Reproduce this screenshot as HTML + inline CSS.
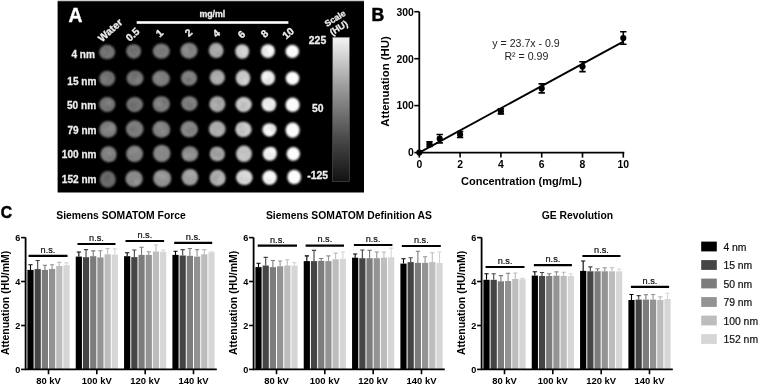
<!DOCTYPE html>
<html><head><meta charset="utf-8"><style>
html,body{margin:0;padding:0;background:#fff;width:758px;height:385px;overflow:hidden;}
svg{display:block;will-change:transform;}
</style></head><body>
<svg width="758" height="385" viewBox="0 0 758 385">
<rect width="758" height="385" fill="#fff"/>
<rect x="57.6" y="0" width="306.4" height="1.2" fill="#cfcfcf"/>
<rect x="57.6" y="1.2" width="306.4" height="191.3" fill="#000"/>
<text x="68.5" y="21.6" font-family="Liberation Sans" font-weight="bold" font-size="19.3" fill="#fff" stroke="#fff" stroke-width="0.4">A</text>
<text x="199.4" y="16.8" font-family="Liberation Sans" font-weight="bold" font-size="8.8" fill="#ececec" stroke="#ececec" stroke-width="0.3">mg/ml</text>
<rect x="136.7" y="21.2" width="151.7" height="2.6" fill="#fff"/>
<text transform="translate(112.61,32.88) rotate(-42)" text-anchor="middle" font-family="Liberation Sans" font-weight="bold" font-size="10.4" fill="#ececec" stroke="#ececec" stroke-width="0.35">Water</text>
<text transform="translate(135.01,37.28) rotate(-42)" text-anchor="middle" font-family="Liberation Sans" font-weight="bold" font-size="10.4" fill="#ececec" stroke="#ececec" stroke-width="0.35">0.5</text>
<text transform="translate(161.81,35.78) rotate(-42)" text-anchor="middle" font-family="Liberation Sans" font-weight="bold" font-size="10.4" fill="#ececec" stroke="#ececec" stroke-width="0.35">1</text>
<text transform="translate(190.81,35.38) rotate(-42)" text-anchor="middle" font-family="Liberation Sans" font-weight="bold" font-size="10.4" fill="#ececec" stroke="#ececec" stroke-width="0.35">2</text>
<text transform="translate(218.61,36.18) rotate(-42)" text-anchor="middle" font-family="Liberation Sans" font-weight="bold" font-size="10.4" fill="#ececec" stroke="#ececec" stroke-width="0.35">4</text>
<text transform="translate(244.01,36.98) rotate(-42)" text-anchor="middle" font-family="Liberation Sans" font-weight="bold" font-size="10.4" fill="#ececec" stroke="#ececec" stroke-width="0.35">6</text>
<text transform="translate(266.81,36.28) rotate(-42)" text-anchor="middle" font-family="Liberation Sans" font-weight="bold" font-size="10.4" fill="#ececec" stroke="#ececec" stroke-width="0.35">8</text>
<text transform="translate(290.51,35.98) rotate(-42)" text-anchor="middle" font-family="Liberation Sans" font-weight="bold" font-size="10.4" fill="#ececec" stroke="#ececec" stroke-width="0.35">10</text>
<text transform="translate(94.9,58.0) scale(0.95,1)" text-anchor="end" font-family="Liberation Sans" font-weight="bold" font-size="10.6" fill="#ececec" stroke="#ececec" stroke-width="0.3">4 nm</text>
<text transform="translate(96.4,85.2) scale(0.95,1)" text-anchor="end" font-family="Liberation Sans" font-weight="bold" font-size="10.6" fill="#ececec" stroke="#ececec" stroke-width="0.3">15 nm</text>
<text transform="translate(96.1,108.8) scale(0.95,1)" text-anchor="end" font-family="Liberation Sans" font-weight="bold" font-size="10.6" fill="#ececec" stroke="#ececec" stroke-width="0.3">50 nm</text>
<text transform="translate(96.5,134.2) scale(0.95,1)" text-anchor="end" font-family="Liberation Sans" font-weight="bold" font-size="10.6" fill="#ececec" stroke="#ececec" stroke-width="0.3">79 nm</text>
<text transform="translate(96.5,158.2) scale(0.95,1)" text-anchor="end" font-family="Liberation Sans" font-weight="bold" font-size="10.6" fill="#ececec" stroke="#ececec" stroke-width="0.3">100 nm</text>
<text transform="translate(96.5,182.7) scale(0.95,1)" text-anchor="end" font-family="Liberation Sans" font-weight="bold" font-size="10.6" fill="#ececec" stroke="#ececec" stroke-width="0.3">152 nm</text>
<defs><filter id="bl" x="-30%" y="-30%" width="160%" height="160%"><feGaussianBlur stdDeviation="0.9"/></filter>
<filter id="bl2" x="-50%" y="-50%" width="200%" height="200%"><feGaussianBlur stdDeviation="1.6"/></filter>
<linearGradient id="sg" x1="0" y1="0" x2="0" y2="1"><stop offset="0" stop-color="#f4f4f4"/><stop offset="0.35" stop-color="#9a9a9a"/><stop offset="0.7" stop-color="#4a4a4a"/><stop offset="1" stop-color="#111"/></linearGradient>
</defs>
<g filter="url(#bl)">
<ellipse cx="107.2" cy="52.1" rx="7.95" ry="7.25" fill="rgb(116,116,116)"/>
<ellipse cx="133.7" cy="51.4" rx="7.35" ry="7.25" fill="rgb(119,119,119)"/>
<ellipse cx="161.3" cy="51.1" rx="8.55" ry="7.60" fill="rgb(124,124,124)"/>
<ellipse cx="189" cy="50.7" rx="8.50" ry="7.95" fill="rgb(132,132,132)"/>
<ellipse cx="216.1" cy="50.4" rx="7.40" ry="7.65" fill="rgb(168,168,168)"/>
<ellipse cx="242.2" cy="51.5" rx="6.95" ry="7.25" fill="rgb(202,202,202)"/>
<ellipse cx="267.9" cy="51.1" rx="6.95" ry="6.90" fill="rgb(238,238,238)"/>
<ellipse cx="292.3" cy="51.4" rx="6.75" ry="6.55" fill="rgb(252,252,252)"/>
<ellipse cx="107.2" cy="78.6" rx="7.95" ry="7.75" fill="rgb(114,114,114)"/>
<ellipse cx="135" cy="78.1" rx="8.55" ry="7.60" fill="rgb(117,117,117)"/>
<ellipse cx="161" cy="78.5" rx="8.80" ry="7.95" fill="rgb(123,123,123)"/>
<ellipse cx="189" cy="78.1" rx="8.10" ry="7.60" fill="rgb(127,127,127)"/>
<ellipse cx="217.3" cy="77.4" rx="7.60" ry="7.60" fill="rgb(168,168,168)"/>
<ellipse cx="243" cy="77.9" rx="7.30" ry="7.80" fill="rgb(200,200,200)"/>
<ellipse cx="268" cy="77.8" rx="7.05" ry="7.25" fill="rgb(236,236,236)"/>
<ellipse cx="292.5" cy="78.2" rx="6.80" ry="6.80" fill="rgb(252,252,252)"/>
<ellipse cx="107.2" cy="104.5" rx="8.05" ry="7.60" fill="rgb(117,117,117)"/>
<ellipse cx="134.7" cy="104.5" rx="8.35" ry="7.60" fill="rgb(120,120,120)"/>
<ellipse cx="161.3" cy="104.2" rx="8.55" ry="7.95" fill="rgb(125,125,125)"/>
<ellipse cx="189.4" cy="103.6" rx="8.10" ry="7.40" fill="rgb(129,129,129)"/>
<ellipse cx="217.3" cy="104.2" rx="8.00" ry="7.95" fill="rgb(168,168,168)"/>
<ellipse cx="243.7" cy="104.5" rx="8.15" ry="7.60" fill="rgb(202,202,202)"/>
<ellipse cx="268.9" cy="104.5" rx="7.30" ry="6.95" fill="rgb(238,238,238)"/>
<ellipse cx="292.6" cy="104.8" rx="7.10" ry="7.30" fill="rgb(252,252,252)"/>
<ellipse cx="108" cy="129.4" rx="8.75" ry="8.30" fill="rgb(124,124,124)"/>
<ellipse cx="134.7" cy="129" rx="8.80" ry="8.65" fill="rgb(126,126,126)"/>
<ellipse cx="161.3" cy="129.4" rx="8.85" ry="8.30" fill="rgb(128,128,128)"/>
<ellipse cx="189.2" cy="129.2" rx="8.70" ry="8.10" fill="rgb(134,134,134)"/>
<ellipse cx="217.2" cy="129" rx="8.45" ry="7.95" fill="rgb(170,170,170)"/>
<ellipse cx="243.5" cy="129.4" rx="8.20" ry="7.60" fill="rgb(202,202,202)"/>
<ellipse cx="269.2" cy="129.7" rx="6.95" ry="6.55" fill="rgb(240,240,240)"/>
<ellipse cx="292.6" cy="130.1" rx="7.10" ry="7.60" fill="rgb(252,252,252)"/>
<ellipse cx="108.5" cy="154.2" rx="8.00" ry="7.95" fill="rgb(129,129,129)"/>
<ellipse cx="134.6" cy="153.8" rx="8.45" ry="8.30" fill="rgb(130,130,130)"/>
<ellipse cx="161.8" cy="153.4" rx="8.65" ry="8.65" fill="rgb(136,136,136)"/>
<ellipse cx="189.9" cy="153.8" rx="8.30" ry="7.60" fill="rgb(139,139,139)"/>
<ellipse cx="217.3" cy="154.1" rx="7.60" ry="7.25" fill="rgb(168,168,168)"/>
<ellipse cx="244" cy="153.8" rx="7.95" ry="8.30" fill="rgb(194,194,194)"/>
<ellipse cx="269.8" cy="153.8" rx="7.10" ry="6.90" fill="rgb(240,240,240)"/>
<ellipse cx="293.3" cy="153.8" rx="6.75" ry="6.90" fill="rgb(253,253,253)"/>
<ellipse cx="107.8" cy="179.4" rx="7.95" ry="8.30" fill="rgb(108,108,108)"/>
<ellipse cx="134.1" cy="178.7" rx="8.65" ry="8.30" fill="rgb(138,138,138)"/>
<ellipse cx="162.2" cy="178.4" rx="9.00" ry="8.65" fill="rgb(145,145,145)"/>
<ellipse cx="189.9" cy="177.3" rx="8.30" ry="8.30" fill="rgb(158,158,158)"/>
<ellipse cx="217.6" cy="178" rx="7.95" ry="8.30" fill="rgb(175,175,175)"/>
<ellipse cx="244.3" cy="177.3" rx="8.30" ry="7.60" fill="rgb(216,216,216)"/>
<ellipse cx="269.6" cy="177.6" rx="7.30" ry="7.25" fill="rgb(245,245,245)"/>
<ellipse cx="294.2" cy="177" rx="6.90" ry="7.25" fill="rgb(252,252,252)"/>
</g>
<g filter="url(#bl2)">
<circle cx="106.0" cy="49.7" r="2.7" fill="rgb(100,100,100)"/>
<circle cx="104.4" cy="52.7" r="3.1" fill="rgb(108,108,108)"/>
<circle cx="104.3" cy="51.5" r="2.1" fill="rgb(124,124,124)"/>
<circle cx="136.0" cy="48.8" r="2.1" fill="rgb(105,105,105)"/>
<circle cx="130.5" cy="49.4" r="2.6" fill="rgb(107,107,107)"/>
<circle cx="133.1" cy="51.7" r="2.6" fill="rgb(110,110,110)"/>
<circle cx="161.9" cy="52.1" r="2.3" fill="rgb(116,116,116)"/>
<circle cx="162.1" cy="51.1" r="2.5" fill="rgb(139,139,139)"/>
<circle cx="161.9" cy="50.8" r="2.2" fill="rgb(113,113,113)"/>
<circle cx="186.1" cy="49.3" r="2.5" fill="rgb(147,147,147)"/>
<circle cx="187.5" cy="54.1" r="2.0" fill="rgb(142,142,142)"/>
<circle cx="190.8" cy="48.3" r="2.5" fill="rgb(123,123,123)"/>
<circle cx="218.0" cy="50.9" r="3.0" fill="rgb(181,181,181)"/>
<circle cx="217.5" cy="51.1" r="2.6" fill="rgb(177,177,177)"/>
<circle cx="218.5" cy="53.5" r="2.5" fill="rgb(160,160,160)"/>
<circle cx="243.8" cy="50.2" r="2.6" fill="rgb(214,214,214)"/>
<circle cx="243.7" cy="54.2" r="2.3" fill="rgb(215,215,215)"/>
<circle cx="239.9" cy="48.8" r="1.9" fill="rgb(212,212,212)"/>
<circle cx="269.6" cy="50.4" r="3.1" fill="rgb(247,247,247)"/>
<circle cx="265.6" cy="50.4" r="2.2" fill="rgb(224,224,224)"/>
<circle cx="270.4" cy="49.5" r="2.4" fill="rgb(252,252,252)"/>
<circle cx="110.4" cy="76.2" r="2.0" fill="rgb(103,103,103)"/>
<circle cx="103.8" cy="80.9" r="2.1" fill="rgb(122,122,122)"/>
<circle cx="104.7" cy="78.8" r="2.7" fill="rgb(124,124,124)"/>
<circle cx="136.3" cy="78.2" r="2.7" fill="rgb(102,102,102)"/>
<circle cx="137.8" cy="80.1" r="3.0" fill="rgb(131,131,131)"/>
<circle cx="134.3" cy="75.3" r="2.7" fill="rgb(106,106,106)"/>
<circle cx="158.0" cy="76.5" r="2.0" fill="rgb(131,131,131)"/>
<circle cx="158.2" cy="79.0" r="2.6" fill="rgb(131,131,131)"/>
<circle cx="158.0" cy="76.5" r="2.3" fill="rgb(136,136,136)"/>
<circle cx="189.7" cy="77.9" r="2.0" fill="rgb(142,142,142)"/>
<circle cx="188.9" cy="76.8" r="2.0" fill="rgb(139,139,139)"/>
<circle cx="188.9" cy="79.4" r="2.5" fill="rgb(111,111,111)"/>
<circle cx="216.3" cy="78.7" r="3.1" fill="rgb(177,177,177)"/>
<circle cx="218.7" cy="75.7" r="2.3" fill="rgb(155,155,155)"/>
<circle cx="219.2" cy="77.6" r="2.9" fill="rgb(179,179,179)"/>
<circle cx="243.8" cy="79.9" r="2.9" fill="rgb(189,189,189)"/>
<circle cx="245.2" cy="79.6" r="2.1" fill="rgb(213,213,213)"/>
<circle cx="244.6" cy="81.3" r="2.9" fill="rgb(212,212,212)"/>
<circle cx="265.9" cy="78.5" r="2.3" fill="rgb(249,249,249)"/>
<circle cx="265.1" cy="75.0" r="2.5" fill="rgb(247,247,247)"/>
<circle cx="267.9" cy="81.2" r="2.7" fill="rgb(221,221,221)"/>
<circle cx="110.1" cy="103.4" r="2.7" fill="rgb(103,103,103)"/>
<circle cx="109.2" cy="106.3" r="2.5" fill="rgb(103,103,103)"/>
<circle cx="109.2" cy="103.3" r="2.9" fill="rgb(132,132,132)"/>
<circle cx="134.0" cy="107.6" r="2.8" fill="rgb(110,110,110)"/>
<circle cx="131.4" cy="105.1" r="2.5" fill="rgb(105,105,105)"/>
<circle cx="135.8" cy="103.5" r="2.6" fill="rgb(112,112,112)"/>
<circle cx="157.9" cy="107.5" r="2.7" fill="rgb(111,111,111)"/>
<circle cx="164.7" cy="102.1" r="3.0" fill="rgb(113,113,113)"/>
<circle cx="159.3" cy="104.2" r="2.9" fill="rgb(137,137,137)"/>
<circle cx="189.7" cy="105.9" r="1.9" fill="rgb(144,144,144)"/>
<circle cx="190.5" cy="105.8" r="2.5" fill="rgb(113,113,113)"/>
<circle cx="187.0" cy="103.7" r="3.0" fill="rgb(121,121,121)"/>
<circle cx="219.2" cy="101.7" r="2.0" fill="rgb(152,152,152)"/>
<circle cx="214.2" cy="105.5" r="2.5" fill="rgb(177,177,177)"/>
<circle cx="220.0" cy="101.1" r="2.1" fill="rgb(159,159,159)"/>
<circle cx="243.8" cy="104.9" r="2.9" fill="rgb(187,187,187)"/>
<circle cx="242.5" cy="107.8" r="2.6" fill="rgb(190,190,190)"/>
<circle cx="243.4" cy="104.7" r="2.5" fill="rgb(186,186,186)"/>
<circle cx="271.5" cy="107.6" r="2.2" fill="rgb(223,223,223)"/>
<circle cx="266.4" cy="101.9" r="2.4" fill="rgb(227,227,227)"/>
<circle cx="268.4" cy="102.5" r="2.2" fill="rgb(228,228,228)"/>
<circle cx="111.1" cy="130.4" r="2.3" fill="rgb(134,134,134)"/>
<circle cx="111.3" cy="127.4" r="3.1" fill="rgb(139,139,139)"/>
<circle cx="105.6" cy="130.6" r="2.1" fill="rgb(140,140,140)"/>
<circle cx="134.0" cy="128.4" r="2.3" fill="rgb(113,113,113)"/>
<circle cx="131.3" cy="129.4" r="2.4" fill="rgb(112,112,112)"/>
<circle cx="133.5" cy="129.9" r="2.5" fill="rgb(117,117,117)"/>
<circle cx="164.7" cy="131.4" r="3.2" fill="rgb(119,119,119)"/>
<circle cx="159.7" cy="126.2" r="2.9" fill="rgb(138,138,138)"/>
<circle cx="163.5" cy="131.8" r="2.7" fill="rgb(142,142,142)"/>
<circle cx="186.7" cy="132.1" r="2.6" fill="rgb(143,143,143)"/>
<circle cx="187.7" cy="131.3" r="2.1" fill="rgb(122,122,122)"/>
<circle cx="192.3" cy="130.1" r="2.9" fill="rgb(123,123,123)"/>
<circle cx="214.2" cy="131.5" r="2.4" fill="rgb(186,186,186)"/>
<circle cx="216.6" cy="131.9" r="2.7" fill="rgb(154,154,154)"/>
<circle cx="218.7" cy="132.1" r="3.2" fill="rgb(178,178,178)"/>
<circle cx="241.3" cy="132.4" r="2.7" fill="rgb(190,190,190)"/>
<circle cx="243.1" cy="130.6" r="2.2" fill="rgb(190,190,190)"/>
<circle cx="240.3" cy="126.0" r="2.5" fill="rgb(186,186,186)"/>
<circle cx="269.0" cy="132.7" r="1.9" fill="rgb(255,255,255)"/>
<circle cx="269.5" cy="132.4" r="3.2" fill="rgb(251,251,251)"/>
<circle cx="272.6" cy="128.6" r="3.0" fill="rgb(226,226,226)"/>
<circle cx="111.9" cy="157.6" r="3.0" fill="rgb(120,120,120)"/>
<circle cx="109.4" cy="156.9" r="2.4" fill="rgb(120,120,120)"/>
<circle cx="109.7" cy="153.4" r="2.5" fill="rgb(140,140,140)"/>
<circle cx="135.9" cy="150.6" r="2.1" fill="rgb(145,145,145)"/>
<circle cx="131.1" cy="152.8" r="2.3" fill="rgb(141,141,141)"/>
<circle cx="131.3" cy="156.5" r="2.1" fill="rgb(122,122,122)"/>
<circle cx="160.6" cy="150.5" r="2.2" fill="rgb(125,125,125)"/>
<circle cx="161.8" cy="149.9" r="2.2" fill="rgb(126,126,126)"/>
<circle cx="161.1" cy="150.2" r="1.8" fill="rgb(147,147,147)"/>
<circle cx="187.0" cy="157.0" r="3.0" fill="rgb(125,125,125)"/>
<circle cx="191.8" cy="155.3" r="2.5" fill="rgb(149,149,149)"/>
<circle cx="186.7" cy="156.1" r="3.0" fill="rgb(155,155,155)"/>
<circle cx="214.8" cy="154.3" r="2.5" fill="rgb(157,157,157)"/>
<circle cx="214.4" cy="150.9" r="2.7" fill="rgb(154,154,154)"/>
<circle cx="219.7" cy="154.5" r="2.7" fill="rgb(153,153,153)"/>
<circle cx="242.3" cy="153.5" r="1.9" fill="rgb(178,178,178)"/>
<circle cx="241.0" cy="155.5" r="2.2" fill="rgb(182,182,182)"/>
<circle cx="242.1" cy="155.6" r="2.1" fill="rgb(209,209,209)"/>
<circle cx="272.2" cy="150.8" r="3.1" fill="rgb(248,248,248)"/>
<circle cx="270.6" cy="154.8" r="1.9" fill="rgb(227,227,227)"/>
<circle cx="268.1" cy="155.5" r="2.2" fill="rgb(232,232,232)"/>
<circle cx="107.7" cy="179.3" r="3.2" fill="rgb(97,97,97)"/>
<circle cx="109.0" cy="177.9" r="2.5" fill="rgb(123,123,123)"/>
<circle cx="107.6" cy="176.7" r="3.1" fill="rgb(96,96,96)"/>
<circle cx="137.4" cy="181.8" r="1.8" fill="rgb(147,147,147)"/>
<circle cx="136.3" cy="182.0" r="2.4" fill="rgb(152,152,152)"/>
<circle cx="132.1" cy="181.8" r="2.1" fill="rgb(128,128,128)"/>
<circle cx="163.9" cy="176.7" r="2.3" fill="rgb(154,154,154)"/>
<circle cx="163.6" cy="176.5" r="3.1" fill="rgb(159,159,159)"/>
<circle cx="158.9" cy="174.9" r="2.5" fill="rgb(159,159,159)"/>
<circle cx="188.5" cy="174.8" r="2.3" fill="rgb(167,167,167)"/>
<circle cx="192.3" cy="173.8" r="2.9" fill="rgb(167,167,167)"/>
<circle cx="193.0" cy="175.2" r="1.8" fill="rgb(170,170,170)"/>
<circle cx="216.7" cy="177.3" r="3.2" fill="rgb(162,162,162)"/>
<circle cx="220.6" cy="179.8" r="3.0" fill="rgb(184,184,184)"/>
<circle cx="214.5" cy="179.1" r="2.7" fill="rgb(164,164,164)"/>
<circle cx="247.6" cy="176.9" r="2.2" fill="rgb(230,230,230)"/>
<circle cx="247.0" cy="179.5" r="2.7" fill="rgb(207,207,207)"/>
<circle cx="241.1" cy="178.9" r="2.4" fill="rgb(204,204,204)"/>
<circle cx="269.5" cy="180.5" r="2.6" fill="rgb(230,230,230)"/>
<circle cx="269.0" cy="176.1" r="2.2" fill="rgb(255,255,255)"/>
<circle cx="270.7" cy="176.2" r="2.6" fill="rgb(254,254,254)"/>
</g>
<rect x="332.6" y="37.2" width="17" height="144.3" fill="url(#sg)" stroke="#555" stroke-width="0.6"/>
<text x="326.2" y="44.2" text-anchor="end" font-family="Liberation Sans" font-weight="bold" font-size="10.4" fill="#ececec" stroke="#ececec" stroke-width="0.3">225</text>
<text x="323.5" y="112.4" text-anchor="end" font-family="Liberation Sans" font-weight="bold" font-size="10.4" fill="#ececec" stroke="#ececec" stroke-width="0.3">50</text>
<text x="328" y="178.9" text-anchor="end" font-family="Liberation Sans" font-weight="bold" font-size="10.4" fill="#ececec" stroke="#ececec" stroke-width="0.3">-125</text>
<text transform="translate(336.68,20.89) rotate(-32)" text-anchor="middle" font-family="Liberation Sans" font-weight="bold" font-size="8.8" fill="#ececec" stroke="#ececec" stroke-width="0.3">Scale</text>
<text transform="translate(340.36,30.61) rotate(-32)" text-anchor="middle" font-family="Liberation Sans" font-weight="bold" font-size="9.2" fill="#ececec" stroke="#ececec" stroke-width="0.3">(HU)</text>
<text x="371.4" y="21.4" font-family="Liberation Sans" font-weight="bold" font-size="17.6" fill="#000" stroke="#000" stroke-width="0.5">B</text>
<path d="M419.3 11.689999999999998 V152.6 H624.3" fill="none" stroke="#000" stroke-width="1.8"/>
<line x1="414.3" y1="152.6" x2="419.3" y2="152.6" stroke="#000" stroke-width="1.6"/>
<text x="413.8" y="156.4" text-anchor="end" font-family="Liberation Sans" font-weight="bold" font-size="10.4" fill="#000">0</text>
<line x1="414.3" y1="105.6" x2="419.3" y2="105.6" stroke="#000" stroke-width="1.6"/>
<text x="413.8" y="109.4" text-anchor="end" font-family="Liberation Sans" font-weight="bold" font-size="10.4" fill="#000">100</text>
<line x1="414.3" y1="58.7" x2="419.3" y2="58.7" stroke="#000" stroke-width="1.6"/>
<text x="413.8" y="62.5" text-anchor="end" font-family="Liberation Sans" font-weight="bold" font-size="10.4" fill="#000">200</text>
<line x1="414.3" y1="11.7" x2="419.3" y2="11.7" stroke="#000" stroke-width="1.6"/>
<text x="413.8" y="15.5" text-anchor="end" font-family="Liberation Sans" font-weight="bold" font-size="10.4" fill="#000">300</text>
<line x1="419.3" y1="152.6" x2="419.3" y2="157.6" stroke="#000" stroke-width="1.6"/>
<text x="419.3" y="168.2" text-anchor="middle" font-family="Liberation Sans" font-weight="bold" font-size="10.4" fill="#000">0</text>
<line x1="460.1" y1="152.6" x2="460.1" y2="157.6" stroke="#000" stroke-width="1.6"/>
<text x="460.1" y="168.2" text-anchor="middle" font-family="Liberation Sans" font-weight="bold" font-size="10.4" fill="#000">2</text>
<line x1="500.9" y1="152.6" x2="500.9" y2="157.6" stroke="#000" stroke-width="1.6"/>
<text x="500.9" y="168.2" text-anchor="middle" font-family="Liberation Sans" font-weight="bold" font-size="10.4" fill="#000">4</text>
<line x1="541.7" y1="152.6" x2="541.7" y2="157.6" stroke="#000" stroke-width="1.6"/>
<text x="541.7" y="168.2" text-anchor="middle" font-family="Liberation Sans" font-weight="bold" font-size="10.4" fill="#000">6</text>
<line x1="582.5" y1="152.6" x2="582.5" y2="157.6" stroke="#000" stroke-width="1.6"/>
<text x="582.5" y="168.2" text-anchor="middle" font-family="Liberation Sans" font-weight="bold" font-size="10.4" fill="#000">8</text>
<line x1="623.3" y1="152.6" x2="623.3" y2="157.6" stroke="#000" stroke-width="1.6"/>
<text x="623.3" y="168.2" text-anchor="middle" font-family="Liberation Sans" font-weight="bold" font-size="10.4" fill="#000">10</text>
<text x="521.5" y="185.2" text-anchor="middle" font-family="Liberation Sans" font-weight="bold" font-size="11" fill="#000">Concentration (mg/mL)</text>
<text transform="translate(389.2,81.4) rotate(-90)" text-anchor="middle" font-family="Liberation Sans" font-weight="bold" font-size="11.4" fill="#000">Attenuation (HU)</text>
<line x1="419.3" y1="152.6" x2="623.3" y2="41.7" stroke="#000" stroke-width="1.9"/>
<circle cx="419.3" cy="152.6" r="3.1" fill="#000"/>
<path d="M429.5 141.7 V146.5 M426.3 141.7 H432.7 M426.3 146.5 H432.7" stroke="#000" stroke-width="1.6" fill="none"/>
<circle cx="429.5" cy="144.2" r="3.1" fill="#000"/>
<path d="M439.7 134.5 V142.9 M436.5 134.5 H442.9 M436.5 142.9 H442.9" stroke="#000" stroke-width="1.6" fill="none"/>
<circle cx="439.7" cy="138.7" r="3.1" fill="#000"/>
<path d="M460.1 131.5 V137.5 M456.9 131.5 H463.3 M456.9 137.5 H463.3" stroke="#000" stroke-width="1.6" fill="none"/>
<circle cx="460.1" cy="134.5" r="3.1" fill="#000"/>
<path d="M500.9 108.7 V113.9 M497.7 108.7 H504.1 M497.7 113.9 H504.1" stroke="#000" stroke-width="1.6" fill="none"/>
<circle cx="500.9" cy="111.3" r="3.1" fill="#000"/>
<path d="M541.7 83.9 V92.9 M538.5 83.9 H544.9 M538.5 92.9 H544.9" stroke="#000" stroke-width="1.6" fill="none"/>
<circle cx="541.7" cy="88.4" r="3.1" fill="#000"/>
<path d="M582.5 61.7 V71.6 M579.3 61.7 H585.7 M579.3 71.6 H585.7" stroke="#000" stroke-width="1.6" fill="none"/>
<circle cx="582.5" cy="66.6" r="3.1" fill="#000"/>
<path d="M623.3 31.7 V44.2 M620.1 31.7 H626.5 M620.1 44.2 H626.5" stroke="#000" stroke-width="1.6" fill="none"/>
<circle cx="623.3" cy="38.0" r="3.1" fill="#000"/>
<text x="526" y="47.4" text-anchor="middle" font-family="Liberation Sans" font-size="10.6" fill="#222">y = 23.7x - 0.9</text>
<text x="526.4" y="60" text-anchor="middle" font-family="Liberation Sans" font-size="10.6" fill="#222">R² = 0.99</text>
<text x="0.8" y="217.8" font-family="Liberation Sans" font-weight="bold" font-size="15.6" fill="#000" stroke="#000" stroke-width="0.5">C</text>
<text x="121.0" y="218.7" text-anchor="middle" font-family="Liberation Sans" font-weight="bold" font-size="10.35" fill="#000">Siemens SOMATOM Force</text>
<rect x="27.40" y="269.9" width="6.2" height="99.5" fill="#000"/>
<path d="M30.50 269.9 V264.3 M28.40 264.8 H32.60" stroke="#000" stroke-width="1.1" fill="none"/>
<rect x="34.60" y="269.1" width="6.2" height="100.3" fill="#454545"/>
<path d="M37.70 269.1 V260 M35.60 260.5 H39.80" stroke="#454545" stroke-width="1.1" fill="none"/>
<rect x="41.80" y="269.9" width="6.2" height="99.5" fill="#7c7c7c"/>
<path d="M44.90 269.9 V264.7 M42.80 265.2 H47.00" stroke="#7c7c7c" stroke-width="1.1" fill="none"/>
<rect x="49.00" y="269" width="6.2" height="100.4" fill="#939393"/>
<path d="M52.10 269 V264.3 M50.00 264.8 H54.20" stroke="#939393" stroke-width="1.1" fill="none"/>
<rect x="56.20" y="266" width="6.2" height="103.4" fill="#bdbdbd"/>
<path d="M59.30 266 V261.9 M57.20 262.4 H61.40" stroke="#bdbdbd" stroke-width="1.1" fill="none"/>
<rect x="63.40" y="265.2" width="6.2" height="104.2" fill="#d6d6d6"/>
<path d="M66.50 265.2 V262.4 M64.40 262.9 H68.60" stroke="#d6d6d6" stroke-width="1.1" fill="none"/>
<line x1="28.6" y1="255.8" x2="67.5" y2="255.8" stroke="#000" stroke-width="2.2"/>
<text x="48.0" y="252.6" text-anchor="middle" font-family="Liberation Sans" font-size="9.2" fill="#111" stroke="#111" stroke-width="0.2">n.s.</text>
<line x1="48.5" y1="369.4" x2="48.5" y2="374.2" stroke="#000" stroke-width="1.6"/>
<text x="48.5" y="383.8" text-anchor="middle" font-family="Liberation Sans" font-weight="bold" font-size="9.45" fill="#000">80 kV</text>
<rect x="75.73" y="256.6" width="6.2" height="112.8" fill="#000"/>
<path d="M78.83 256.6 V251.5 M76.73 252.0 H80.93" stroke="#000" stroke-width="1.1" fill="none"/>
<rect x="82.93" y="257.2" width="6.2" height="112.2" fill="#454545"/>
<path d="M86.03 257.2 V249.1 M83.93 249.6 H88.13" stroke="#454545" stroke-width="1.1" fill="none"/>
<rect x="90.13" y="256.2" width="6.2" height="113.2" fill="#7c7c7c"/>
<path d="M93.23 256.2 V250.4 M91.13 250.9 H95.33" stroke="#7c7c7c" stroke-width="1.1" fill="none"/>
<rect x="97.33" y="257.4" width="6.2" height="112.0" fill="#939393"/>
<path d="M100.43 257.4 V250.2 M98.33 250.7 H102.53" stroke="#939393" stroke-width="1.1" fill="none"/>
<rect x="104.53" y="254.3" width="6.2" height="115.1" fill="#bdbdbd"/>
<path d="M107.63 254.3 V248 M105.53 248.5 H109.73" stroke="#bdbdbd" stroke-width="1.1" fill="none"/>
<rect x="111.73" y="254.6" width="6.2" height="114.8" fill="#d6d6d6"/>
<path d="M114.83 254.6 V248.4 M112.73 248.9 H116.93" stroke="#d6d6d6" stroke-width="1.1" fill="none"/>
<line x1="77.5" y1="244" x2="115.5" y2="244" stroke="#000" stroke-width="2.2"/>
<text x="96.5" y="240.8" text-anchor="middle" font-family="Liberation Sans" font-size="9.2" fill="#111" stroke="#111" stroke-width="0.2">n.s.</text>
<line x1="96.8" y1="369.4" x2="96.8" y2="374.2" stroke="#000" stroke-width="1.6"/>
<text x="96.8" y="383.8" text-anchor="middle" font-family="Liberation Sans" font-weight="bold" font-size="9.45" fill="#000">100 kV</text>
<rect x="124.06" y="256.2" width="6.2" height="113.2" fill="#000"/>
<path d="M127.16 256.2 V252.3 M125.06 252.8 H129.26" stroke="#000" stroke-width="1.1" fill="none"/>
<rect x="131.26" y="257.1" width="6.2" height="112.3" fill="#454545"/>
<path d="M134.36 257.1 V249.5 M132.26 250.0 H136.46" stroke="#454545" stroke-width="1.1" fill="none"/>
<rect x="138.46" y="254.9" width="6.2" height="114.5" fill="#7c7c7c"/>
<path d="M141.56 254.9 V246.8 M139.46 247.3 H143.66" stroke="#7c7c7c" stroke-width="1.1" fill="none"/>
<rect x="145.66" y="254.9" width="6.2" height="114.5" fill="#939393"/>
<path d="M148.76 254.9 V251.2 M146.66 251.7 H150.86" stroke="#939393" stroke-width="1.1" fill="none"/>
<rect x="152.86" y="251.5" width="6.2" height="117.9" fill="#bdbdbd"/>
<path d="M155.96 251.5 V244.5 M153.86 245.0 H158.06" stroke="#bdbdbd" stroke-width="1.1" fill="none"/>
<rect x="160.06" y="251.8" width="6.2" height="117.6" fill="#d6d6d6"/>
<path d="M163.16 251.8 V249.5 M161.06 250.0 H165.26" stroke="#d6d6d6" stroke-width="1.1" fill="none"/>
<line x1="125.5" y1="241" x2="164.1" y2="241" stroke="#000" stroke-width="2.2"/>
<text x="144.8" y="237.8" text-anchor="middle" font-family="Liberation Sans" font-size="9.2" fill="#111" stroke="#111" stroke-width="0.2">n.s.</text>
<line x1="145.2" y1="369.4" x2="145.2" y2="374.2" stroke="#000" stroke-width="1.6"/>
<text x="145.2" y="383.8" text-anchor="middle" font-family="Liberation Sans" font-weight="bold" font-size="9.45" fill="#000">120 kV</text>
<rect x="172.39" y="254.9" width="6.2" height="114.5" fill="#000"/>
<path d="M175.49 254.9 V250.7 M173.39 251.2 H177.59" stroke="#000" stroke-width="1.1" fill="none"/>
<rect x="179.59" y="255.5" width="6.2" height="113.9" fill="#454545"/>
<path d="M182.69 255.5 V249.1 M180.59 249.6 H184.79" stroke="#454545" stroke-width="1.1" fill="none"/>
<rect x="186.79" y="255.8" width="6.2" height="113.6" fill="#7c7c7c"/>
<path d="M189.89 255.8 V248 M187.79 248.5 H191.99" stroke="#7c7c7c" stroke-width="1.1" fill="none"/>
<rect x="193.99" y="256.6" width="6.2" height="112.8" fill="#939393"/>
<path d="M197.09 256.6 V249.1 M194.99 249.6 H199.19" stroke="#939393" stroke-width="1.1" fill="none"/>
<rect x="201.19" y="254.3" width="6.2" height="115.1" fill="#bdbdbd"/>
<path d="M204.29 254.3 V249.1 M202.19 249.6 H206.39" stroke="#bdbdbd" stroke-width="1.1" fill="none"/>
<rect x="208.39" y="252.3" width="6.2" height="117.1" fill="#d6d6d6"/>
<path d="M211.49 252.3 V251.2 M209.39 251.7 H213.59" stroke="#d6d6d6" stroke-width="1.1" fill="none"/>
<line x1="174.2" y1="242.9" x2="212.2" y2="242.9" stroke="#000" stroke-width="2.2"/>
<text x="193.2" y="239.7" text-anchor="middle" font-family="Liberation Sans" font-size="9.2" fill="#111" stroke="#111" stroke-width="0.2">n.s.</text>
<line x1="193.5" y1="369.4" x2="193.5" y2="374.2" stroke="#000" stroke-width="1.6"/>
<text x="193.5" y="383.8" text-anchor="middle" font-family="Liberation Sans" font-weight="bold" font-size="9.45" fill="#000">140 kV</text>
<path d="M25.6 237.6 V369.4 H216.8" fill="none" stroke="#000" stroke-width="1.8"/>
<line x1="21.1" y1="369.4" x2="25.6" y2="369.4" stroke="#000" stroke-width="1.6"/>
<text x="20.200000000000003" y="372.6" text-anchor="end" font-family="Liberation Sans" font-weight="bold" font-size="9.1" fill="#000">0</text>
<line x1="21.1" y1="325.5" x2="25.6" y2="325.5" stroke="#000" stroke-width="1.6"/>
<text x="20.200000000000003" y="328.7" text-anchor="end" font-family="Liberation Sans" font-weight="bold" font-size="9.1" fill="#000">2</text>
<line x1="21.1" y1="281.5" x2="25.6" y2="281.5" stroke="#000" stroke-width="1.6"/>
<text x="20.200000000000003" y="284.7" text-anchor="end" font-family="Liberation Sans" font-weight="bold" font-size="9.1" fill="#000">4</text>
<line x1="21.1" y1="237.6" x2="25.6" y2="237.6" stroke="#000" stroke-width="1.6"/>
<text x="20.200000000000003" y="240.8" text-anchor="end" font-family="Liberation Sans" font-weight="bold" font-size="9.1" fill="#000">6</text>
<text transform="translate(8.8,302.9) rotate(-90)" text-anchor="middle" font-family="Liberation Sans" font-weight="bold" font-size="10.5" fill="#000">Attenuation (HU/mM)</text>
<text x="348.9" y="218.7" text-anchor="middle" font-family="Liberation Sans" font-weight="bold" font-size="10.35" fill="#000">Siemens SOMATOM Definition AS</text>
<rect x="255.40" y="267.1" width="6.2" height="102.3" fill="#000"/>
<path d="M258.50 267.1 V262.7 M256.40 263.2 H260.60" stroke="#000" stroke-width="1.1" fill="none"/>
<rect x="262.60" y="265.5" width="6.2" height="103.9" fill="#454545"/>
<path d="M265.70 265.5 V256.9 M263.60 257.4 H267.80" stroke="#454545" stroke-width="1.1" fill="none"/>
<rect x="269.80" y="267.1" width="6.2" height="102.3" fill="#7c7c7c"/>
<path d="M272.90 267.1 V260 M270.80 260.5 H275.00" stroke="#7c7c7c" stroke-width="1.1" fill="none"/>
<rect x="277.00" y="266.3" width="6.2" height="103.1" fill="#939393"/>
<path d="M280.10 266.3 V260.5 M278.00 261.0 H282.20" stroke="#939393" stroke-width="1.1" fill="none"/>
<rect x="284.20" y="265.5" width="6.2" height="103.9" fill="#bdbdbd"/>
<path d="M287.30 265.5 V259.3 M285.20 259.8 H289.40" stroke="#bdbdbd" stroke-width="1.1" fill="none"/>
<rect x="291.40" y="265.5" width="6.2" height="103.9" fill="#d6d6d6"/>
<path d="M294.50 265.5 V262.1 M292.40 262.6 H296.60" stroke="#d6d6d6" stroke-width="1.1" fill="none"/>
<line x1="257.7" y1="245.7" x2="297" y2="245.7" stroke="#000" stroke-width="2.2"/>
<text x="277.4" y="242.5" text-anchor="middle" font-family="Liberation Sans" font-size="9.2" fill="#111" stroke="#111" stroke-width="0.2">n.s.</text>
<line x1="276.5" y1="369.4" x2="276.5" y2="374.2" stroke="#000" stroke-width="1.6"/>
<text x="276.5" y="383.8" text-anchor="middle" font-family="Liberation Sans" font-weight="bold" font-size="9.45" fill="#000">80 kV</text>
<rect x="303.73" y="261.1" width="6.2" height="108.3" fill="#000"/>
<path d="M306.83 261.1 V255.4 M304.73 255.9 H308.93" stroke="#000" stroke-width="1.1" fill="none"/>
<rect x="310.93" y="261.1" width="6.2" height="108.3" fill="#454545"/>
<path d="M314.03 261.1 V249.9 M311.93 250.4 H316.13" stroke="#454545" stroke-width="1.1" fill="none"/>
<rect x="318.13" y="260.8" width="6.2" height="108.6" fill="#7c7c7c"/>
<path d="M321.23 260.8 V258 M319.13 258.5 H323.33" stroke="#7c7c7c" stroke-width="1.1" fill="none"/>
<rect x="325.33" y="261.1" width="6.2" height="108.3" fill="#939393"/>
<path d="M328.43 261.1 V255.4 M326.33 255.9 H330.53" stroke="#939393" stroke-width="1.1" fill="none"/>
<rect x="332.53" y="259.3" width="6.2" height="110.1" fill="#bdbdbd"/>
<path d="M335.63 259.3 V252.6 M333.53 253.1 H337.73" stroke="#bdbdbd" stroke-width="1.1" fill="none"/>
<rect x="339.73" y="258.8" width="6.2" height="110.6" fill="#d6d6d6"/>
<path d="M342.83 258.8 V251.5 M340.73 252.0 H344.93" stroke="#d6d6d6" stroke-width="1.1" fill="none"/>
<line x1="305.6" y1="245.6" x2="344" y2="245.6" stroke="#000" stroke-width="2.2"/>
<text x="324.8" y="242.4" text-anchor="middle" font-family="Liberation Sans" font-size="9.2" fill="#111" stroke="#111" stroke-width="0.2">n.s.</text>
<line x1="324.8" y1="369.4" x2="324.8" y2="374.2" stroke="#000" stroke-width="1.6"/>
<text x="324.8" y="383.8" text-anchor="middle" font-family="Liberation Sans" font-weight="bold" font-size="9.45" fill="#000">100 kV</text>
<rect x="352.06" y="257.7" width="6.2" height="111.7" fill="#000"/>
<path d="M355.16 257.7 V253.5 M353.06 254.0 H357.26" stroke="#000" stroke-width="1.1" fill="none"/>
<rect x="359.26" y="258.2" width="6.2" height="111.2" fill="#454545"/>
<path d="M362.36 258.2 V249.5 M360.26 250.0 H364.46" stroke="#454545" stroke-width="1.1" fill="none"/>
<rect x="366.46" y="258.2" width="6.2" height="111.2" fill="#7c7c7c"/>
<path d="M369.56 258.2 V249.9 M367.46 250.4 H371.66" stroke="#7c7c7c" stroke-width="1.1" fill="none"/>
<rect x="373.66" y="258.2" width="6.2" height="111.2" fill="#939393"/>
<path d="M376.76 258.2 V251.5 M374.66 252.0 H378.86" stroke="#939393" stroke-width="1.1" fill="none"/>
<rect x="380.86" y="257.7" width="6.2" height="111.7" fill="#bdbdbd"/>
<path d="M383.96 257.7 V251.5 M381.86 252.0 H386.06" stroke="#bdbdbd" stroke-width="1.1" fill="none"/>
<rect x="388.06" y="257.2" width="6.2" height="112.2" fill="#d6d6d6"/>
<path d="M391.16 257.2 V247.6 M389.06 248.1 H393.26" stroke="#d6d6d6" stroke-width="1.1" fill="none"/>
<line x1="353.9" y1="245" x2="392.4" y2="245" stroke="#000" stroke-width="2.2"/>
<text x="373.1" y="241.8" text-anchor="middle" font-family="Liberation Sans" font-size="9.2" fill="#111" stroke="#111" stroke-width="0.2">n.s.</text>
<line x1="373.2" y1="369.4" x2="373.2" y2="374.2" stroke="#000" stroke-width="1.6"/>
<text x="373.2" y="383.8" text-anchor="middle" font-family="Liberation Sans" font-weight="bold" font-size="9.45" fill="#000">120 kV</text>
<rect x="400.39" y="263.6" width="6.2" height="105.8" fill="#000"/>
<path d="M403.49 263.6 V258.2 M401.39 258.7 H405.59" stroke="#000" stroke-width="1.1" fill="none"/>
<rect x="407.59" y="262.1" width="6.2" height="107.3" fill="#454545"/>
<path d="M410.69 262.1 V257.2 M408.59 257.7 H412.79" stroke="#454545" stroke-width="1.1" fill="none"/>
<rect x="414.79" y="262.9" width="6.2" height="106.5" fill="#7c7c7c"/>
<path d="M417.89 262.9 V250.7 M415.79 251.2 H419.99" stroke="#7c7c7c" stroke-width="1.1" fill="none"/>
<rect x="421.99" y="262.9" width="6.2" height="106.5" fill="#939393"/>
<path d="M425.09 262.9 V256.2 M422.99 256.7 H427.19" stroke="#939393" stroke-width="1.1" fill="none"/>
<rect x="429.19" y="262.1" width="6.2" height="107.3" fill="#bdbdbd"/>
<path d="M432.29 262.1 V252.3 M430.19 252.8 H434.39" stroke="#bdbdbd" stroke-width="1.1" fill="none"/>
<rect x="436.39" y="262.9" width="6.2" height="106.5" fill="#d6d6d6"/>
<path d="M439.49 262.9 V251.5 M437.39 252.0 H441.59" stroke="#d6d6d6" stroke-width="1.1" fill="none"/>
<line x1="401.8" y1="246" x2="440.8" y2="246" stroke="#000" stroke-width="2.2"/>
<text x="421.3" y="242.8" text-anchor="middle" font-family="Liberation Sans" font-size="9.2" fill="#111" stroke="#111" stroke-width="0.2">n.s.</text>
<line x1="421.5" y1="369.4" x2="421.5" y2="374.2" stroke="#000" stroke-width="1.6"/>
<text x="421.5" y="383.8" text-anchor="middle" font-family="Liberation Sans" font-weight="bold" font-size="9.45" fill="#000">140 kV</text>
<path d="M253.6 237.6 V369.4 H444.8" fill="none" stroke="#000" stroke-width="1.8"/>
<line x1="249.1" y1="369.4" x2="253.6" y2="369.4" stroke="#000" stroke-width="1.6"/>
<text x="248.2" y="372.6" text-anchor="end" font-family="Liberation Sans" font-weight="bold" font-size="9.1" fill="#000">0</text>
<line x1="249.1" y1="325.5" x2="253.6" y2="325.5" stroke="#000" stroke-width="1.6"/>
<text x="248.2" y="328.7" text-anchor="end" font-family="Liberation Sans" font-weight="bold" font-size="9.1" fill="#000">2</text>
<line x1="249.1" y1="281.5" x2="253.6" y2="281.5" stroke="#000" stroke-width="1.6"/>
<text x="248.2" y="284.7" text-anchor="end" font-family="Liberation Sans" font-weight="bold" font-size="9.1" fill="#000">4</text>
<line x1="249.1" y1="237.6" x2="253.6" y2="237.6" stroke="#000" stroke-width="1.6"/>
<text x="248.2" y="240.8" text-anchor="end" font-family="Liberation Sans" font-weight="bold" font-size="9.1" fill="#000">6</text>
<text transform="translate(236.79999999999998,302.9) rotate(-90)" text-anchor="middle" font-family="Liberation Sans" font-weight="bold" font-size="10.5" fill="#000">Attenuation (HU/mM)</text>
<text x="577.4" y="218.7" text-anchor="middle" font-family="Liberation Sans" font-weight="bold" font-size="10.35" fill="#000">GE Revolution</text>
<rect x="483.40" y="279.8" width="6.2" height="89.6" fill="#000"/>
<path d="M486.50 279.8 V273.2 M484.40 273.7 H488.60" stroke="#000" stroke-width="1.1" fill="none"/>
<rect x="490.60" y="279.8" width="6.2" height="89.6" fill="#454545"/>
<path d="M493.70 279.8 V273.2 M491.60 273.7 H495.80" stroke="#454545" stroke-width="1.1" fill="none"/>
<rect x="497.80" y="281.3" width="6.2" height="88.1" fill="#7c7c7c"/>
<path d="M500.90 281.3 V275.1 M498.80 275.6 H503.00" stroke="#7c7c7c" stroke-width="1.1" fill="none"/>
<rect x="505.00" y="281" width="6.2" height="88.4" fill="#939393"/>
<path d="M508.10 281 V272.9 M506.00 273.4 H510.20" stroke="#939393" stroke-width="1.1" fill="none"/>
<rect x="512.20" y="279" width="6.2" height="90.4" fill="#bdbdbd"/>
<path d="M515.30 279 V272.5 M513.20 273.0 H517.40" stroke="#bdbdbd" stroke-width="1.1" fill="none"/>
<rect x="519.40" y="279.2" width="6.2" height="90.2" fill="#d6d6d6"/>
<path d="M522.50 279.2 V277.9 M520.40 278.4 H524.60" stroke="#d6d6d6" stroke-width="1.1" fill="none"/>
<line x1="485.6" y1="267" x2="524.5" y2="267" stroke="#000" stroke-width="2.2"/>
<text x="505.1" y="263.8" text-anchor="middle" font-family="Liberation Sans" font-size="9.2" fill="#111" stroke="#111" stroke-width="0.2">n.s.</text>
<line x1="504.5" y1="369.4" x2="504.5" y2="374.2" stroke="#000" stroke-width="1.6"/>
<text x="504.5" y="383.8" text-anchor="middle" font-family="Liberation Sans" font-weight="bold" font-size="9.45" fill="#000">80 kV</text>
<rect x="531.73" y="275.6" width="6.2" height="93.8" fill="#000"/>
<path d="M534.83 275.6 V271.2 M532.73 271.7 H536.93" stroke="#000" stroke-width="1.1" fill="none"/>
<rect x="538.93" y="276" width="6.2" height="93.4" fill="#454545"/>
<path d="M542.03 276 V272 M539.93 272.5 H544.13" stroke="#454545" stroke-width="1.1" fill="none"/>
<rect x="546.13" y="276" width="6.2" height="93.4" fill="#7c7c7c"/>
<path d="M549.23 276 V273.2 M547.13 273.7 H551.33" stroke="#7c7c7c" stroke-width="1.1" fill="none"/>
<rect x="553.33" y="275.6" width="6.2" height="93.8" fill="#939393"/>
<path d="M556.43 275.6 V271.4 M554.33 271.9 H558.53" stroke="#939393" stroke-width="1.1" fill="none"/>
<rect x="560.53" y="276" width="6.2" height="93.4" fill="#bdbdbd"/>
<path d="M563.63 276 V271.7 M561.53 272.2 H565.73" stroke="#bdbdbd" stroke-width="1.1" fill="none"/>
<rect x="567.73" y="276" width="6.2" height="93.4" fill="#d6d6d6"/>
<path d="M570.83 276 V273.2 M568.73 273.7 H572.93" stroke="#d6d6d6" stroke-width="1.1" fill="none"/>
<line x1="533.9" y1="265.2" x2="571.9" y2="265.2" stroke="#000" stroke-width="2.2"/>
<text x="552.9" y="262.0" text-anchor="middle" font-family="Liberation Sans" font-size="9.2" fill="#111" stroke="#111" stroke-width="0.2">n.s.</text>
<line x1="552.8" y1="369.4" x2="552.8" y2="374.2" stroke="#000" stroke-width="1.6"/>
<text x="552.8" y="383.8" text-anchor="middle" font-family="Liberation Sans" font-weight="bold" font-size="9.45" fill="#000">100 kV</text>
<rect x="580.06" y="270.9" width="6.2" height="98.5" fill="#000"/>
<path d="M583.16 270.9 V260.5 M581.06 261.0 H585.26" stroke="#000" stroke-width="1.1" fill="none"/>
<rect x="587.26" y="271.3" width="6.2" height="98.1" fill="#454545"/>
<path d="M590.36 271.3 V266.4 M588.26 266.9 H592.46" stroke="#454545" stroke-width="1.1" fill="none"/>
<rect x="594.46" y="271.3" width="6.2" height="98.1" fill="#7c7c7c"/>
<path d="M597.56 271.3 V268.2 M595.46 268.7 H599.66" stroke="#7c7c7c" stroke-width="1.1" fill="none"/>
<rect x="601.66" y="271.3" width="6.2" height="98.1" fill="#939393"/>
<path d="M604.76 271.3 V267.3 M602.66 267.8 H606.86" stroke="#939393" stroke-width="1.1" fill="none"/>
<rect x="608.86" y="271.3" width="6.2" height="98.1" fill="#bdbdbd"/>
<path d="M611.96 271.3 V267.3 M609.86 267.8 H614.06" stroke="#bdbdbd" stroke-width="1.1" fill="none"/>
<rect x="616.06" y="271.3" width="6.2" height="98.1" fill="#d6d6d6"/>
<path d="M619.16 271.3 V268.5 M617.06 269.0 H621.26" stroke="#d6d6d6" stroke-width="1.1" fill="none"/>
<line x1="582.4" y1="256" x2="620.5" y2="256" stroke="#000" stroke-width="2.2"/>
<text x="601.5" y="252.8" text-anchor="middle" font-family="Liberation Sans" font-size="9.2" fill="#111" stroke="#111" stroke-width="0.2">n.s.</text>
<line x1="601.2" y1="369.4" x2="601.2" y2="374.2" stroke="#000" stroke-width="1.6"/>
<text x="601.2" y="383.8" text-anchor="middle" font-family="Liberation Sans" font-weight="bold" font-size="9.45" fill="#000">120 kV</text>
<rect x="628.39" y="300" width="6.2" height="69.4" fill="#000"/>
<path d="M631.49 300 V294 M629.39 294.5 H633.59" stroke="#000" stroke-width="1.1" fill="none"/>
<rect x="635.59" y="299.6" width="6.2" height="69.8" fill="#454545"/>
<path d="M638.69 299.6 V295.1 M636.59 295.6 H640.79" stroke="#454545" stroke-width="1.1" fill="none"/>
<rect x="642.79" y="299.6" width="6.2" height="69.8" fill="#7c7c7c"/>
<path d="M645.89 299.6 V294.2 M643.79 294.7 H647.99" stroke="#7c7c7c" stroke-width="1.1" fill="none"/>
<rect x="649.99" y="299.6" width="6.2" height="69.8" fill="#939393"/>
<path d="M653.09 299.6 V294 M650.99 294.5 H655.19" stroke="#939393" stroke-width="1.1" fill="none"/>
<rect x="657.19" y="300" width="6.2" height="69.4" fill="#bdbdbd"/>
<path d="M660.29 300 V296.4 M658.19 296.9 H662.39" stroke="#bdbdbd" stroke-width="1.1" fill="none"/>
<rect x="664.39" y="299" width="6.2" height="70.4" fill="#d6d6d6"/>
<path d="M667.49 299 V292.7 M665.39 293.2 H669.59" stroke="#d6d6d6" stroke-width="1.1" fill="none"/>
<line x1="630.9" y1="286.9" x2="669.1" y2="286.9" stroke="#000" stroke-width="2.2"/>
<text x="650.0" y="283.7" text-anchor="middle" font-family="Liberation Sans" font-size="9.2" fill="#111" stroke="#111" stroke-width="0.2">n.s.</text>
<line x1="649.5" y1="369.4" x2="649.5" y2="374.2" stroke="#000" stroke-width="1.6"/>
<text x="649.5" y="383.8" text-anchor="middle" font-family="Liberation Sans" font-weight="bold" font-size="9.45" fill="#000">140 kV</text>
<path d="M481.6 237.6 V369.4 H672.8" fill="none" stroke="#000" stroke-width="1.8"/>
<line x1="477.1" y1="369.4" x2="481.6" y2="369.4" stroke="#000" stroke-width="1.6"/>
<text x="476.20000000000005" y="372.6" text-anchor="end" font-family="Liberation Sans" font-weight="bold" font-size="9.1" fill="#000">0</text>
<line x1="477.1" y1="325.5" x2="481.6" y2="325.5" stroke="#000" stroke-width="1.6"/>
<text x="476.20000000000005" y="328.7" text-anchor="end" font-family="Liberation Sans" font-weight="bold" font-size="9.1" fill="#000">2</text>
<line x1="477.1" y1="281.5" x2="481.6" y2="281.5" stroke="#000" stroke-width="1.6"/>
<text x="476.20000000000005" y="284.7" text-anchor="end" font-family="Liberation Sans" font-weight="bold" font-size="9.1" fill="#000">4</text>
<line x1="477.1" y1="237.6" x2="481.6" y2="237.6" stroke="#000" stroke-width="1.6"/>
<text x="476.20000000000005" y="240.8" text-anchor="end" font-family="Liberation Sans" font-weight="bold" font-size="9.1" fill="#000">6</text>
<text transform="translate(464.8,302.9) rotate(-90)" text-anchor="middle" font-family="Liberation Sans" font-weight="bold" font-size="10.5" fill="#000">Attenuation (HU/mM)</text>
<rect x="701.2" y="241.6" width="15.6" height="9.8" fill="#000"/>
<text x="723.4" y="250.8" font-family="Liberation Sans" font-size="10.4" fill="#111" stroke="#111" stroke-width="0.2">4 nm</text>
<rect x="701.2" y="260.1" width="15.6" height="9.8" fill="#454545"/>
<text x="723.4" y="269.3" font-family="Liberation Sans" font-size="10.4" fill="#111" stroke="#111" stroke-width="0.2">15 nm</text>
<rect x="701.2" y="278.6" width="15.6" height="9.8" fill="#7c7c7c"/>
<text x="723.4" y="287.8" font-family="Liberation Sans" font-size="10.4" fill="#111" stroke="#111" stroke-width="0.2">50 nm</text>
<rect x="701.2" y="297.1" width="15.6" height="9.8" fill="#939393"/>
<text x="723.4" y="306.3" font-family="Liberation Sans" font-size="10.4" fill="#111" stroke="#111" stroke-width="0.2">79 nm</text>
<rect x="701.2" y="315.6" width="15.6" height="9.8" fill="#bdbdbd"/>
<text x="723.4" y="324.8" font-family="Liberation Sans" font-size="10.4" fill="#111" stroke="#111" stroke-width="0.2">100 nm</text>
<rect x="701.2" y="334.1" width="15.6" height="9.8" fill="#d6d6d6"/>
<text x="723.4" y="343.3" font-family="Liberation Sans" font-size="10.4" fill="#111" stroke="#111" stroke-width="0.2">152 nm</text>
</svg>
</body></html>
